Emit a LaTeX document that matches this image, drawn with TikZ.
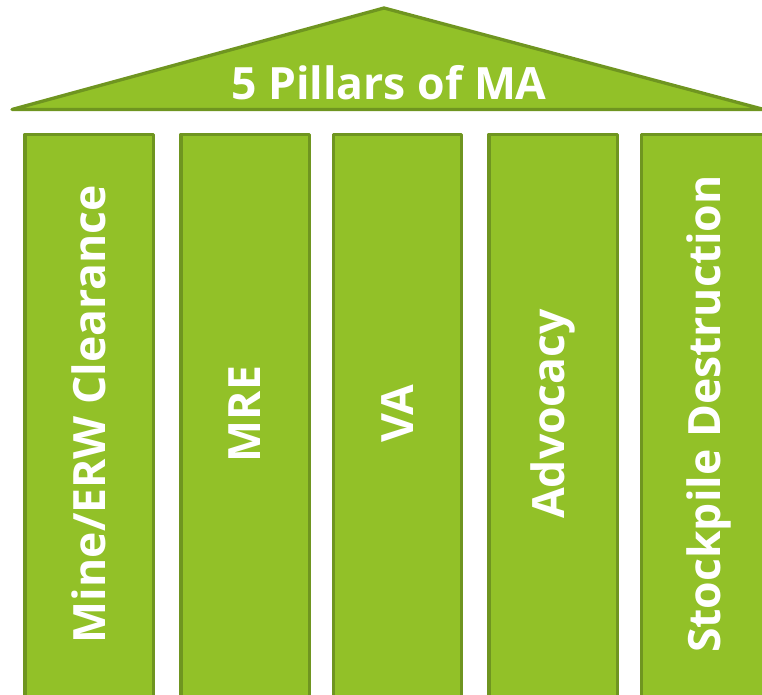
\documentclass[tikz,border=0pt]{standalone}
\usepackage{fontspec}
\setmainfont{Open Sans}
\definecolor{pfill}{HTML}{92C128}
\definecolor{pline}{HTML}{6F9520}
\begin{document}
\begin{tikzpicture}[x=1pt,y=-1pt,
  part/.style={fill=pfill,draw=pline,line width=3.3pt,line join=round},
  lbl/.style={text=white,font=\fontsize{44.5}{48}\selectfont\bfseries,inner sep=0pt},
  plbl/.style={lbl,rotate=90,anchor=center}]
\useasboundingbox (0,0) rectangle (762,694);
\clip (0,0) rectangle (762,694);
\coordinate (L) at (12,109.5);
\coordinate (T) at (384,8);
\coordinate (R) at (764,109.5);
\draw[part] (L) -- (T) -- (R) -- cycle;
\node[lbl,anchor=base] (title) at (389,99) {5 Pillars of MA};
\foreach \n/\xl/\dx/\t in {p1/25/64.1/{Mine/ERW Clearance},p2/181/64.1/{MRE},p3/333.3/64.1/{VA},p4/489/64.1/{Advocacy},p5/641.7/67/{Stockpile Destruction}}{
  \draw[part] (\xl,710) -- (\xl,134.3) -- (\xl+128.2,134.3) -- (\xl+128.2,710);
  \node[plbl] (\n) at (\xl+\dx,414) {\t};
}
\end{tikzpicture}
\end{document}
